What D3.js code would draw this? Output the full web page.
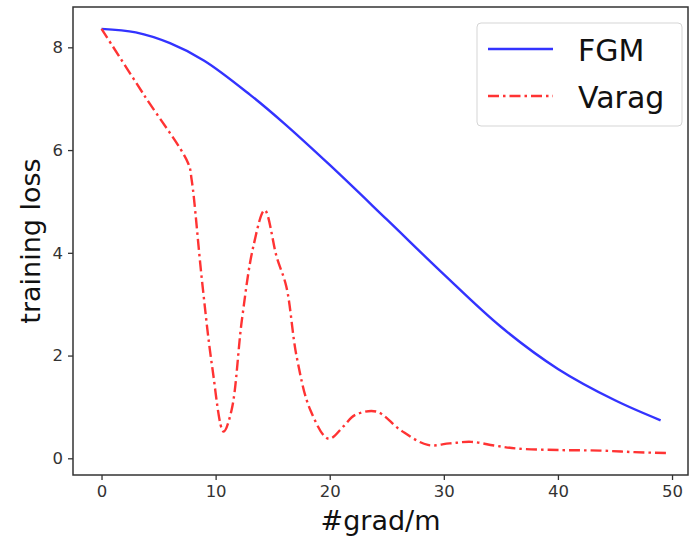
<!DOCTYPE html>
<html>
<head>
<meta charset="utf-8">
<script src="https://cdn.jsdelivr.net/npm/d3@7"></script>
<style>
  body { margin: 0; background: #fff; }
  svg text { font-family: "DejaVu Sans", sans-serif; }
</style>
</head>
<body>
<svg id="chart" width="692" height="540"></svg>
<script>
// datos
var fgmX = [0, 3, 6, 9, 13, 16, 20, 25, 30, 35, 40, 45, 49];
var fgmY = [8.36, 8.29, 8.08, 7.74, 7.08, 6.52, 5.71, 4.65, 3.58, 2.56, 1.74, 1.13, 0.74];

var varagX = [0, 3.7, 7.6, 7.9, 8.8, 9.7, 10.7, 11.4, 12.3, 13.3, 14.3, 15.35, 16.2, 17.1, 18.3, 19.9,
              21.2, 22.2, 24.1, 26.2, 28.6, 30.5, 32.4, 34.4, 36.4, 40.2, 43.7, 46.7, 49.8];
var varagY = [8.36, 7.08, 5.74, 5.42, 3.47, 1.78, 0.52, 0.94, 2.69, 4.12, 4.83, 3.92, 3.34, 1.98, 0.94, 0.38,
              0.62, 0.84, 0.91, 0.55, 0.26, 0.29, 0.32, 0.25, 0.19, 0.16, 0.15, 0.12, 0.10];

var xTicks = [0, 10, 20, 30, 40, 50];
var yTicks = [0, 2, 4, 6, 8];
var seriesNames = ['FGM', 'Varag'];

const margin = { top: 7, right: 4, bottom: 65, left: 73 };
const w = 692, h = 540;
const width = w - margin.left - margin.right;
const height = h - margin.top - margin.bottom;

const svg = d3.select('#chart');
const g = svg.append('g').attr('transform', 'translate(' + margin.left + ',' + margin.top + ')');

const x = d3.scaleLinear().domain([-2.5, 51.4]).range([0, width]);
const y = d3.scaleLinear().domain([-0.325, 8.785]).range([height, 0]);

function zip(xs, ys) { return xs.map((d, i) => ({ x: d, y: ys[i] })); }

const line = d3.line()
    .x(d => x(d.x))
    .y(d => y(d.y))
    .curve(d3.curveCatmullRom.alpha(0.5));

g.append('path')
    .datum(zip(fgmX, fgmY))
    .attr('fill', 'none')
    .attr('stroke', 'rgb(51,51,255)')
    .attr('stroke-width', 2.4)
    .attr('d', line);

g.append('path')
    .datum(zip(varagX, varagY))
    .attr('fill', 'none')
    .attr('stroke', 'rgb(255,51,51)')
    .attr('stroke-width', 2.4)
    .attr('stroke-dasharray', '11,4,2.5,4')
    .attr('d', line);

// ejes
const axisX = d3.axisBottom(x).tickValues(xTicks).tickSize(5).tickPadding(5);
const axisY = d3.axisLeft(y).tickValues(yTicks).tickSize(5).tickPadding(5);

const gx = g.append('g').attr('transform', 'translate(0,' + height + ')').call(axisX);
const gy = g.append('g').call(axisY);

[gx, gy].forEach(a => {
    a.select('.domain').remove();
    a.selectAll('.tick line').attr('stroke', '#333').attr('stroke-width', 1.3);
    a.selectAll('.tick text').attr('fill', '#333').style('font-size', '16.5px')
        .style('font-family', '"DejaVu Sans", sans-serif');
});

// marco
g.append('rect')
    .attr('x', 0).attr('y', 0)
    .attr('width', width).attr('height', height)
    .attr('fill', 'none')
    .attr('stroke', '#333')
    .attr('stroke-width', 1.5);

// titulos de ejes
svg.append('text')
    .attr('x', margin.left + width / 2)
    .attr('y', 530)
    .attr('text-anchor', 'middle')
    .style('font-size', '27px')
    .attr('fill', '#111')
    .text('#grad/m');

svg.append('text')
    .attr('transform', 'translate(40,' + (margin.top + height / 2) + ') rotate(-90)')
    .attr('text-anchor', 'middle')
    .style('font-size', '27px')
    .attr('fill', '#111')
    .text('training loss');

// leyenda
const leg = svg.append('g');
leg.append('rect')
    .attr('x', 477).attr('y', 23)
    .attr('width', 205).attr('height', 103)
    .attr('rx', 4)
    .attr('fill', 'rgba(255,255,255,0.8)')
    .attr('stroke', '#d5d5d5')
    .attr('stroke-width', 1);

const legStyles = [
    { color: 'rgb(51,51,255)', dash: null },
    { color: 'rgb(255,51,51)', dash: '11,4,2.5,4' }
];

seriesNames.forEach((name, i) => {
    const yy = 49 + i * 47;
    leg.append('line')
        .attr('x1', 488).attr('x2', 553)
        .attr('y1', yy).attr('y2', yy)
        .attr('stroke', legStyles[i].color)
        .attr('stroke-width', 2.4)
        .attr('stroke-dasharray', legStyles[i].dash);
    leg.append('text')
        .attr('x', 578).attr('y', yy + 12)
        .style('font-size', '30px')
        .attr('fill', '#111')
        .text(name);
});
</script>
</body>
</html>
